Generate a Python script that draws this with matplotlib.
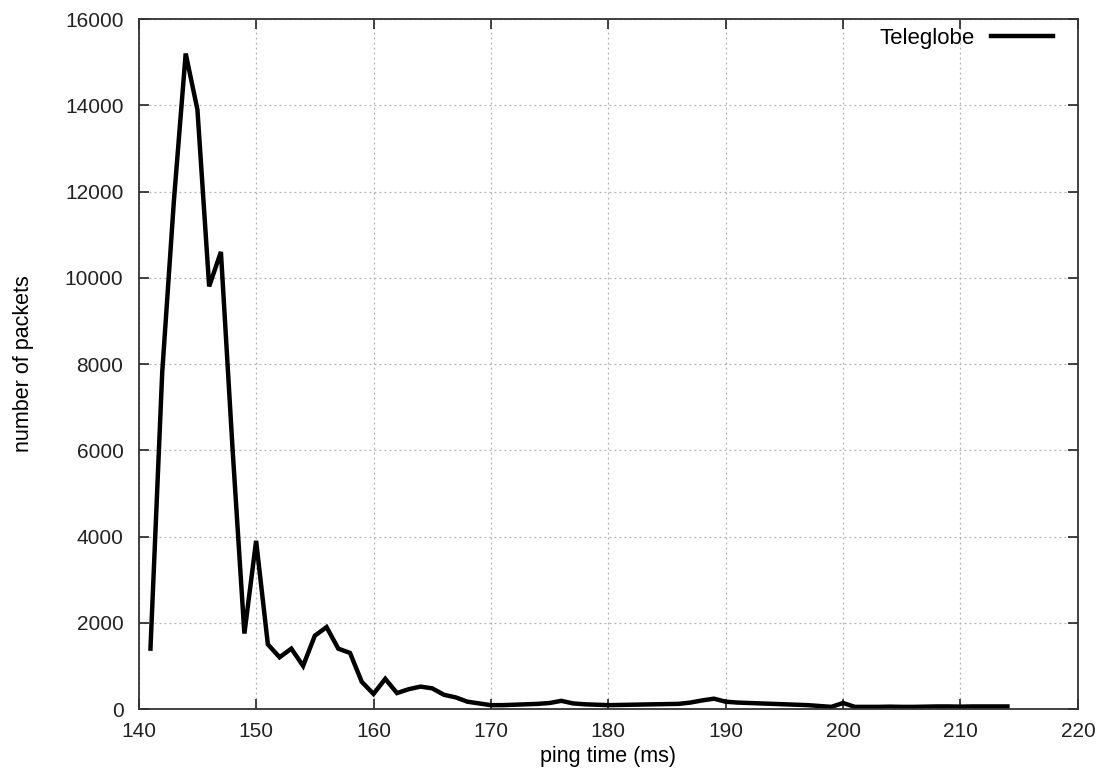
import numpy as np
import matplotlib
matplotlib.use("Agg")
import matplotlib.pyplot as plt

# ping time histogram
ping_ms = list(range(141, 215))
packets = [1400, 7800, 11800, 15200, 13900, 9800, 10600, 6000, 1750, 3900,
           1500, 1200, 1400, 1000, 1700, 1900, 1400, 1300, 630, 350,
           700, 370, 460, 520, 480, 330, 270, 170, 130, 90,
           90, 100, 110, 120, 140, 190, 130, 110, 100, 90,
           95, 100, 105, 110, 115, 120, 150, 200, 240, 170,
           150, 140, 130, 120, 110, 100, 90, 70, 50, 140,
           50, 50, 50, 55, 50, 50, 55, 60, 60, 55,
           60, 60, 60, 60]

plt.rcParams['font.family'] = ['Liberation Sans', 'DejaVu Sans']
fs = 15

fig = plt.figure(figsize=(11.01, 7.76), dpi=100)
ax = fig.add_axes([0.126, 0.0863, 0.853, 0.8892])

ax.plot(ping_ms, packets, color='black', lw=3.2, label='Teleglobe',
        solid_joinstyle='miter')

ax.set_xlim(140, 220)
ax.set_ylim(0, 16000)
ax.set_xticks(np.arange(140, 221, 10))
ax.set_yticks(np.arange(0, 16001, 2000))
ax.grid(True, color='#b0b0b0', linestyle=(0, (1.5, 2.5)), lw=0.9)
ax.tick_params(direction='in', length=7, width=1.2, top=True, right=True,
               labelsize=fs, colors='#222222')
ax.tick_params(axis='x', pad=9)
ax.tick_params(axis='y', pad=11)
for s in ax.spines.values():
    s.set_linewidth(1.3)
    s.set_color('#333333')

ax.set_xlabel('ping time (ms)', fontsize=15.5, labelpad=4)
ax.set_ylabel('number of packets', fontsize=15.5, labelpad=22)

ax.legend(loc='upper right', frameon=False, markerfirst=False, fontsize=16,
          handlelength=2.8, handletextpad=0.7, borderaxespad=0,
          bbox_to_anchor=(0.983, 1.0))

fig.savefig('out.png', dpi=100)
